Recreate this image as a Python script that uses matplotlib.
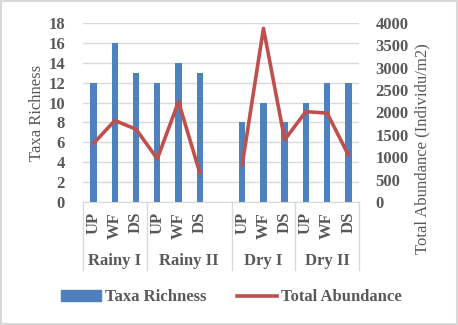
import numpy as np
import matplotlib.pyplot as plt
import matplotlib.transforms as mtransforms
from matplotlib.patches import Rectangle
from matplotlib.lines import Line2D
from matplotlib.patches import Patch

plt.rcParams['font.family'] = ['Liberation Serif', 'DejaVu Serif']

groups = ['Rainy I', 'Rainy II', 'Dry I', 'Dry II']
sites = ['UP', 'WF', 'DS']
richness = [[12, 16, 13], [12, 14, 13], [8, 10, 8], [10, 12, 12]]
abundance = [[1310, 1820, 1625], [965, 2240, 655], [830, 3880, 1390], [2020, 1985, 1050]]
# an empty slot follows Rainy II in the original sheet
gap_after = 'Rainy II'

grey = '#595959'
bar_col = '#4F81BD'
line_col = '#C0504D'

# build slots
x_rich, y_rich, x_ab, y_ab, xlab, group_spans = [], [], [], [], [], []
pos = 0
for g, r, a in zip(groups, richness, abundance):
    start = pos
    for s, rv, av in zip(sites, r, a):
        x_rich.append(pos); y_rich.append(rv)
        x_ab.append(pos); y_ab.append(av)
        xlab.append((pos, s))
        pos += 1
    if g == gap_after:
        x_ab.append(pos); y_ab.append(np.nan)
        pos += 1
    group_spans.append((g, start - 0.5, pos - 0.5))

fig = plt.figure(figsize=(4.58, 3.25), dpi=100)
ax = fig.add_axes([0.1812, 0.3785, 0.6026, 0.5508])
ax2 = ax.twinx()

ax.bar(x_rich, y_rich, width=0.3, color=bar_col, zorder=2)
ax2.plot(x_ab, y_ab, color=line_col, lw=2.6, solid_capstyle='round', solid_joinstyle='round')

ax.set_xlim(-0.5, pos - 0.5)
ax.set_ylim(0, 18)
ax.set_yticks(range(0, 19, 2))
ax2.set_ylim(0, 4000)
ax2.set_yticks(range(0, 4001, 500))
ax.grid(axis='y', color='#d9d9d9', lw=1, zorder=0)
ax.set_axisbelow(True)

for a in (ax, ax2):
    for sp in ['top', 'left', 'right']:
        a.spines[sp].set_visible(False)
    a.spines['bottom'].set_color('#d9d9d9')
    a.tick_params(length=0, labelsize=12, colors=grey)
    for t in a.get_yticklabels():
        t.set_fontweight('bold')
ax2.spines['bottom'].set_visible(False)
ax.tick_params(axis='y', pad=13)
ax2.tick_params(axis='y', pad=12)
ax.set_xticks([])

ax.set_ylabel('Taxa Richness', fontsize=12, color=grey)
ax.yaxis.set_label_coords(-0.137, 0.5)
ax2.set_ylabel('Total Abundance (Individu/m2)', fontsize=12, color=grey)
ax2.yaxis.set_label_coords(1.20, 0.30)

trans = mtransforms.blended_transform_factory(ax.transData, ax.transAxes)
for x, s in xlab:
    ax.text(x, -0.055, s, rotation=90, ha='center', va='top', transform=trans,
            fontsize=12, color=grey, fontweight='bold')
for g, x0, x1 in group_spans:
    ax.text((x0 + x1) / 2, -0.33, g, ha='center', va='center', transform=trans,
            fontsize=12, color=grey, fontweight='bold')
seps = sorted(set([s[1] for s in group_spans] + [s[2] for s in group_spans]))
for xs in seps:
    ax.plot([xs, xs], [0, -0.38], transform=trans, color='#d9d9d9', lw=1, clip_on=False)

handles = [Patch(color=bar_col), Line2D([], [], color=line_col, lw=2.6)]
leg = fig.legend(handles, ['Taxa Richness', 'Total Abundance'], loc='center',
                 bbox_to_anchor=(0.505, 0.085), ncol=2, frameon=False,
                 prop={'size': 12, 'weight': 'bold'}, handlelength=2.4,
                 handleheight=0.55, columnspacing=1.8, handletextpad=0.25)
for t in leg.get_texts():
    t.set_color(grey)

fig.patches.append(Rectangle((0.003, 0.004), 0.994, 0.992, transform=fig.transFigure,
                             fill=False, edgecolor='#d9d9d9', lw=1.5))

fig.savefig('out.png', dpi=100)
